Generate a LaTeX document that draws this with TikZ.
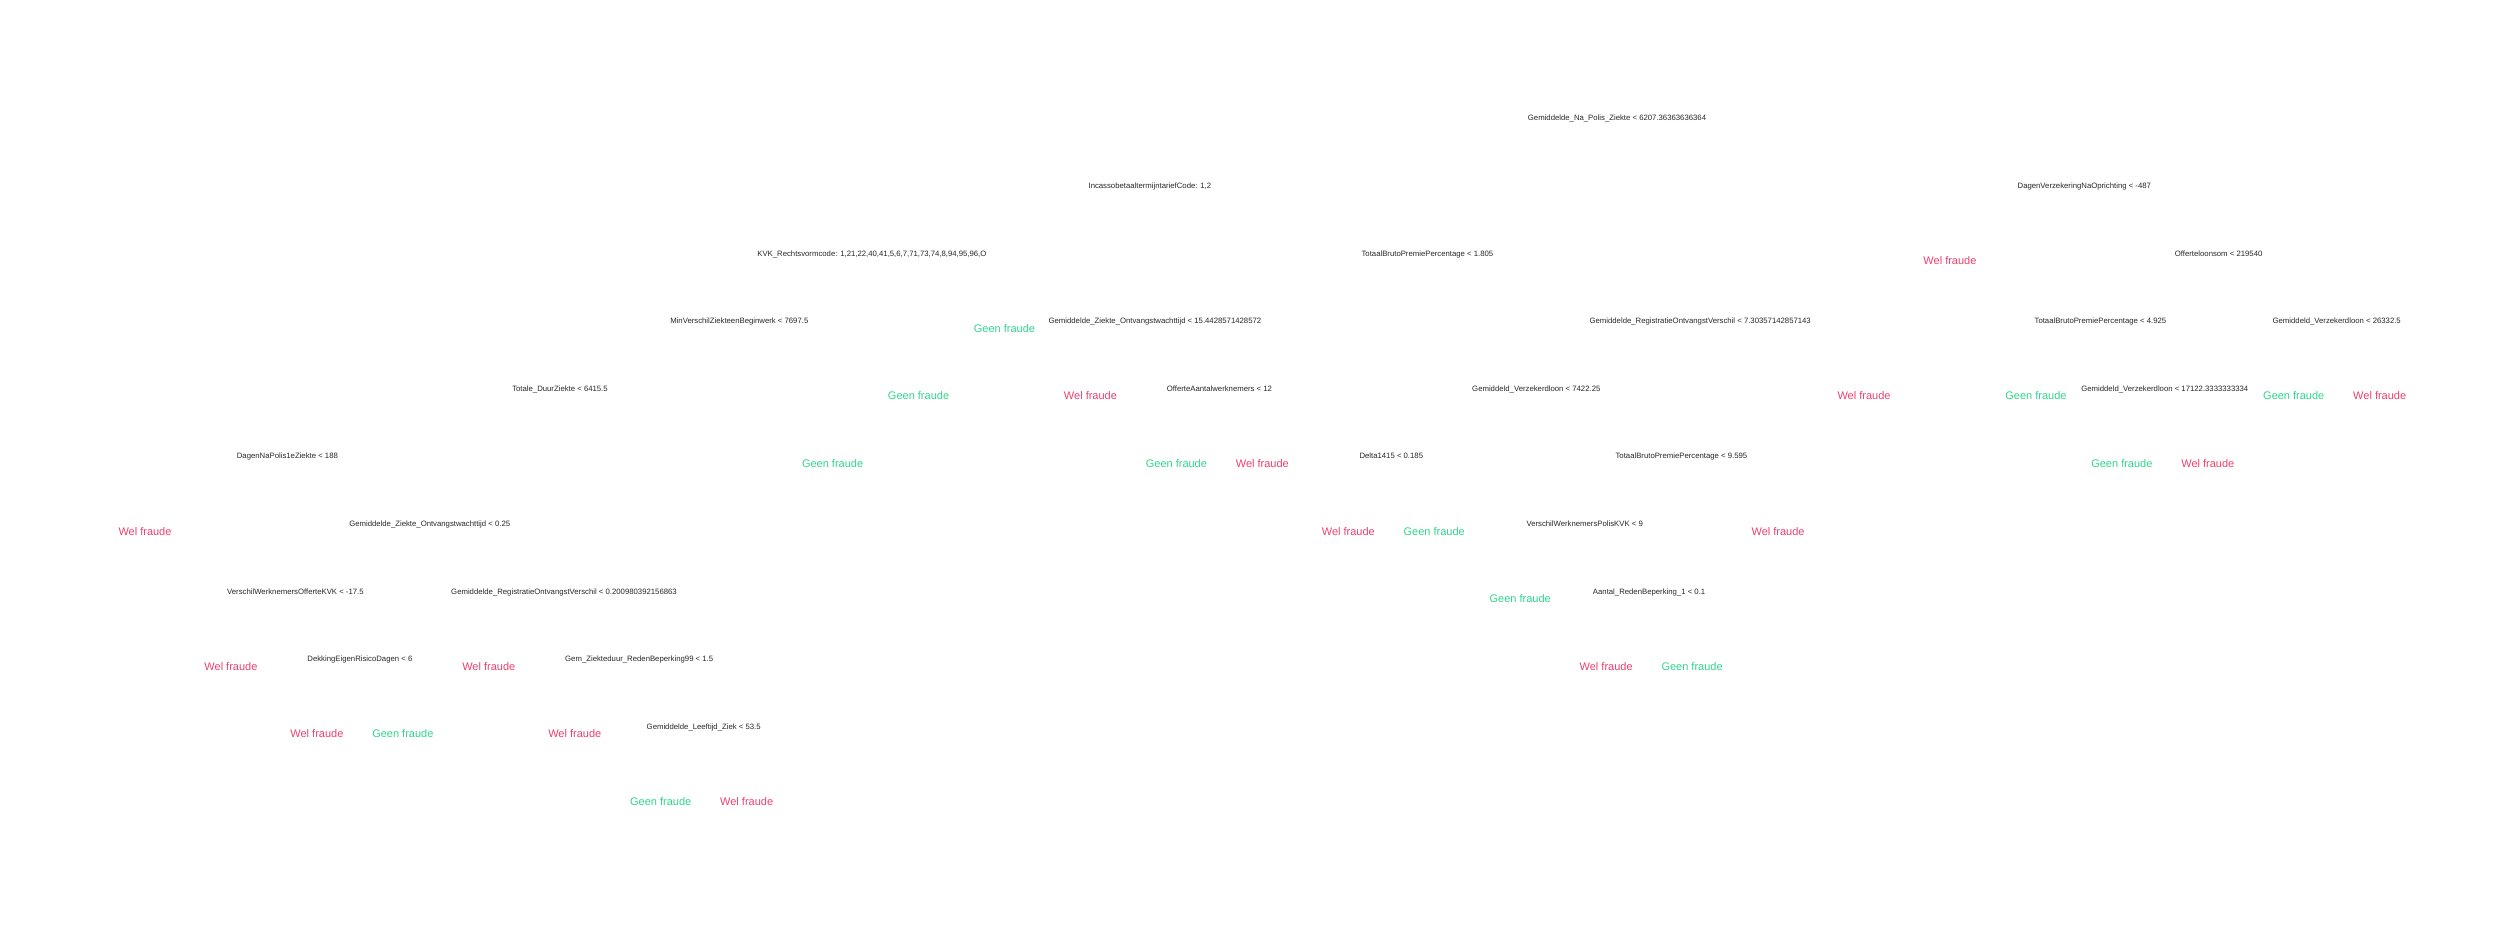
\documentclass[tikz,border=0pt]{standalone}
\usepackage{fontspec}
\setmainfont{Liberation Sans}
\definecolor{welc}{RGB}{238,64,110}
\definecolor{geenc}{RGB}{48,214,140}
\definecolor{splitc}{RGB}{40,40,40}
\begin{document}
\begin{tikzpicture}[x=1pt,y=-1pt,
  split/.style={anchor=base, inner sep=0pt, text=splitc, font=\fontsize{7.75}{9}\selectfont},
  leaf/.style={anchor=base, inner sep=0pt, font=\fontsize{11}{13}\selectfont},
  wel/.style={leaf, text=welc},
  geen/.style={leaf, text=geenc}]
\useasboundingbox[fill=white] (0,0) rectangle (2500,926);
% split nodes
\node[split] (root) at (1617.0,120.8) {Gemiddelde\_Na\_Polis\_Ziekte < 6207.36363636364};
\node[split] (inc) at (1149.9,188.4) {IncassobetaaltermijntariefCode: 1,2};
\node[split] (dag) at (2084.3,188.4) {DagenVerzekeringNaOprichting < -487};
\node[split] (kvk) at (871.9,256.0) {KVK\_Rechtsvormcode: 1,21,22,40,41,5,6,7,71,73,74,8,94,95,96,O};
\node[split] (tbp1) at (1427.4,256.0) {TotaalBrutoPremiePercentage < 1.805};
\node[split] (offl) at (2218.6,256.0) {Offerteloonsom < 219540};
\node[split] (minv) at (739.3,323.6) {MinVerschilZiekteenBeginwerk < 7697.5};
\node[split] (gzo1) at (1154.9,323.6) {Gemiddelde\_Ziekte\_Ontvangstwachttijd < 15.4428571428572};
\node[split] (gro1) at (1700.2,323.6) {Gemiddelde\_RegistratieOntvangstVerschil < 7.30357142857143};
\node[split] (tbp2) at (2100.4,323.6) {TotaalBrutoPremiePercentage < 4.925};
\node[split] (gv3) at (2336.7,323.6) {Gemiddeld\_Verzekerdloon < 26332.5};
\node[split] (tdz) at (560.0,391.2) {Totale\_DuurZiekte < 6415.5};
\node[split] (oaw) at (1219.4,391.2) {OfferteAantalwerknemers < 12};
\node[split] (gv1) at (1536.3,391.2) {Gemiddeld\_Verzekerdloon < 7422.25};
\node[split] (gv2) at (2164.8,391.2) {Gemiddeld\_Verzekerdloon < 17122.3333333334};
\node[split] (dnp) at (287.4,458.8) {DagenNaPolis1eZiekte < 188};
\node[split] (del) at (1391.3,458.8) {Delta1415 < 0.185};
\node[split] (tbp3) at (1681.4,458.8) {TotaalBrutoPremiePercentage < 9.595};
\node[split] (gzo2) at (429.7,526.4) {Gemiddelde\_Ziekte\_Ontvangstwachttijd < 0.25};
\node[split] (vwp) at (1584.7,526.4) {VerschilWerknemersPolisKVK < 9};
\node[split] (vwo) at (295.4,594.0) {VerschilWerknemersOfferteKVK < -17.5};
\node[split] (gro2) at (564.0,594.0) {Gemiddelde\_RegistratieOntvangstVerschil < 0.200980392156863};
\node[split] (arb) at (1649.1,594.0) {Aantal\_RedenBeperking\_1 < 0.1};
\node[split] (der) at (359.9,661.6) {DekkingEigenRisicoDagen < 6};
\node[split] (gzr) at (639.2,661.6) {Gem\_Ziekteduur\_RedenBeperking99 < 1.5};
\node[split] (glz) at (703.7,729.2) {Gemiddelde\_Leeftijd\_Ziek < 53.5};
% leaves
\node[wel]  (l0)  at (145.0,535.0) {Wel fraude};
\node[wel]  (l1)  at (230.95,670.2) {Wel fraude};
\node[wel]  (l2)  at (316.9,737.8) {Wel fraude};
\node[geen] (l3)  at (402.85,737.8) {Geen fraude};
\node[wel]  (l4)  at (488.8,670.2) {Wel fraude};
\node[wel]  (l5)  at (574.75,737.8) {Wel fraude};
\node[geen] (l6)  at (660.7,805.4) {Geen fraude};
\node[wel]  (l7)  at (746.65,805.4) {Wel fraude};
\node[geen] (l8)  at (832.6,467.4) {Geen fraude};
\node[geen] (l9)  at (918.55,399.8) {Geen fraude};
\node[geen] (l10) at (1004.5,332.2) {Geen fraude};
\node[wel]  (l11) at (1090.45,399.8) {Wel fraude};
\node[geen] (l12) at (1176.4,467.4) {Geen fraude};
\node[wel]  (l13) at (1262.35,467.4) {Wel fraude};
\node[wel]  (l14) at (1348.3,535.0) {Wel fraude};
\node[geen] (l15) at (1434.25,535.0) {Geen fraude};
\node[geen] (l16) at (1520.2,602.6) {Geen fraude};
\node[wel]  (l17) at (1606.15,670.2) {Wel fraude};
\node[geen] (l18) at (1692.1,670.2) {Geen fraude};
\node[wel]  (l19) at (1778.05,535.0) {Wel fraude};
\node[wel]  (l20) at (1864.0,399.8) {Wel fraude};
\node[wel]  (l21) at (1949.95,264.6) {Wel fraude};
\node[geen] (l22) at (2035.9,399.8) {Geen fraude};
\node[geen] (l23) at (2121.85,467.4) {Geen fraude};
\node[wel]  (l24) at (2207.8,467.4) {Wel fraude};
\node[geen] (l25) at (2293.75,399.8) {Geen fraude};
\node[wel]  (l26) at (2379.7,399.8) {Wel fraude};
\end{tikzpicture}
\end{document}
